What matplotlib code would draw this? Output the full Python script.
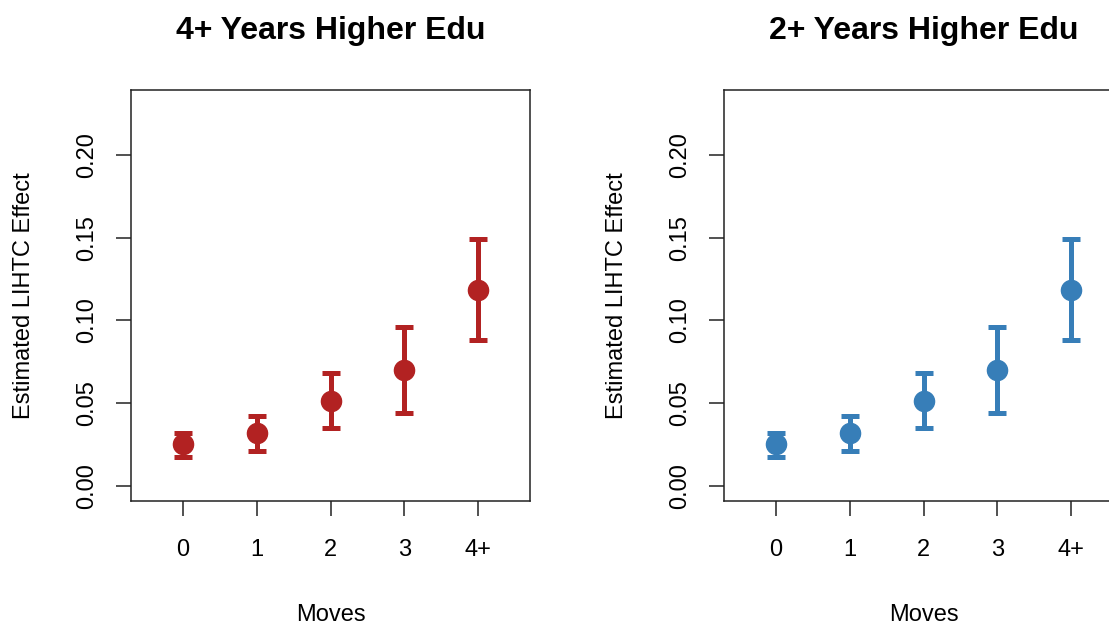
import numpy as np
import matplotlib
matplotlib.use('Agg')
import matplotlib.pyplot as plt

plt.rcParams['font.family'] = ['Liberation Sans', 'DejaVu Sans']

# estimates and 95% bounds
moves = ['0', '1', '2', '3', '4+']
est = [0.0253, 0.0321, 0.0515, 0.0701, 0.1183]
upper = [0.0321, 0.0422, 0.0680, 0.0961, 0.1491]
lower = [0.0173, 0.0211, 0.0351, 0.0441, 0.0881]

titles = ['4+ Years Higher Edu', '2+ Years Higher Edu']
colors = ['#B22222', '#377EB8']
yticks = [0.00, 0.05, 0.10, 0.15, 0.20]

fig = plt.figure(figsize=(11.09, 6.26), dpi=100)
lefts = [131/1109, 724/1109]
w = 399/1109
b = (626-501)/626
h = 411/626

x = np.arange(1, len(moves)+1)
est_a = np.array(est)
err = [est_a - np.array(lower), np.array(upper) - est_a]

for left, title, col in zip(lefts, titles, colors):
    ax = fig.add_axes([left, b, w, h])
    ax.errorbar(x, est, yerr=err, fmt='o', color=col, ms=14.5, elinewidth=3.6,
                capsize=6.5, capthick=3.6, clip_on=False)
    ax.set_xlim(0.3, 5.7)
    ax.set_ylim(-0.0092, 0.2392)
    ax.set_xticks(x)
    ax.set_xticklabels(moves)
    ax.set_yticks(yticks)
    ax.set_yticklabels(['%.2f' % v for v in yticks], rotation=90, va='center')
    ax.tick_params(length=11, width=1.1, labelsize=17, color='#222222')
    ax.tick_params(axis='x', pad=16)
    ax.tick_params(axis='y', pad=13)
    for s in ax.spines.values():
        s.set_linewidth(1.1)
        s.set_color('#222222')
    ax.set_xlabel('Moves', fontsize=17, labelpad=31)
    ax.set_ylabel('Estimated LIHTC Effect', fontsize=17, labelpad=29)
    ax.set_title(title, fontsize=23, fontweight='bold', pad=37)

fig.savefig('out.png', dpi=100)
